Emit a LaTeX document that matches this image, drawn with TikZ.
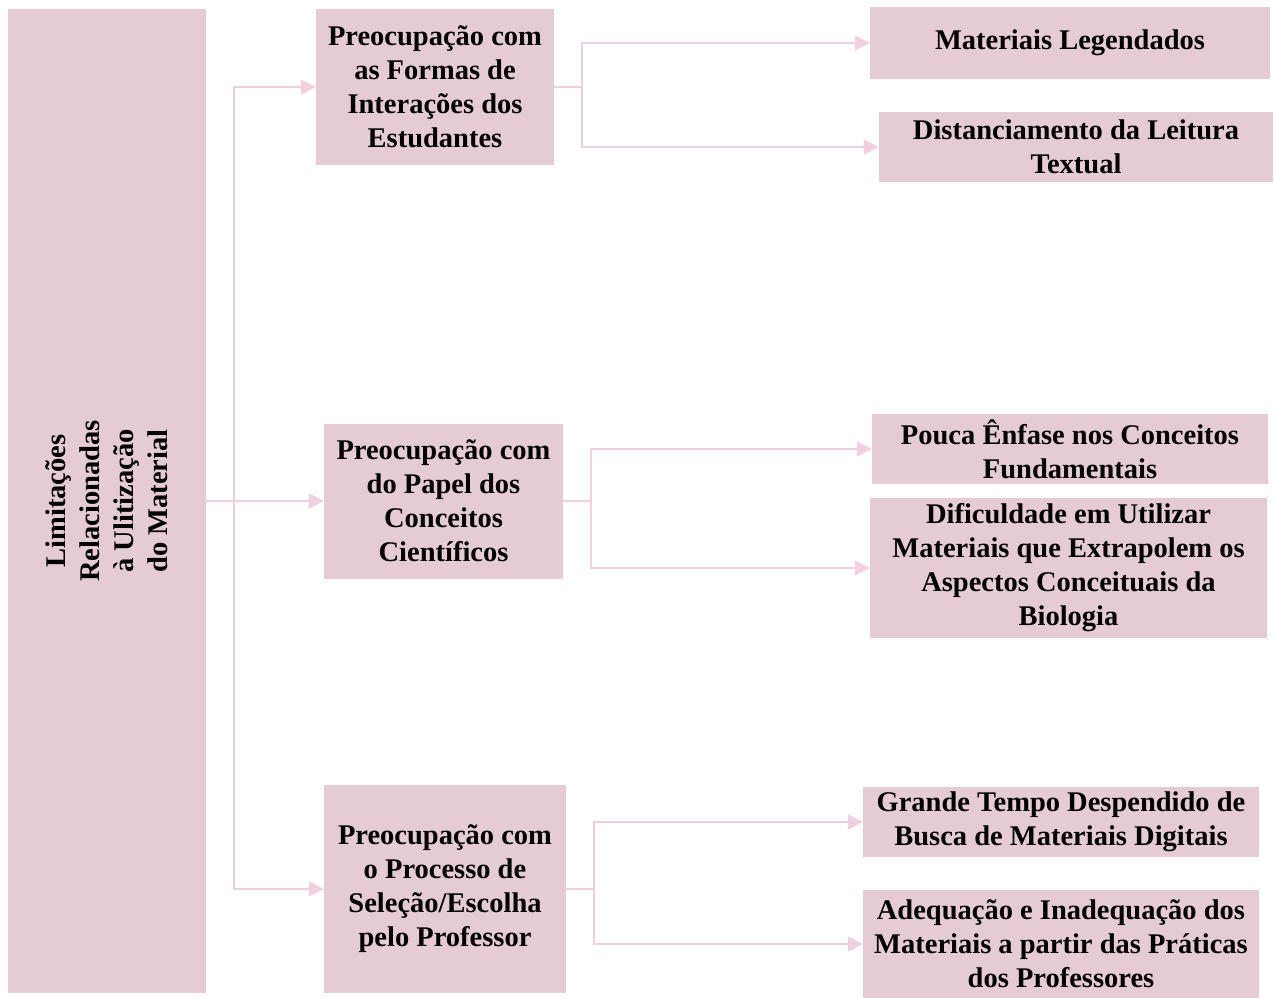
\documentclass[tikz,border=0pt]{standalone}
\usepackage{fontspec}
\setmainfont{Liberation Serif}
\usetikzlibrary{arrows.meta}
\definecolor{boxpink}{RGB}{229,203,211}
\definecolor{linepink}{RGB}{240,208,224}
\begin{document}
\begin{tikzpicture}[x=1pt,y=-1pt,
  box/.style={fill=boxpink, draw=none, align=center, inner sep=0pt,
    font=\bfseries\fontsize{28.5}{34}\selectfont, text=black},
  link/.style={draw=linepink, line width=1.5pt},
  arr/.style={link, -{Triangle[length=15pt,width=15pt]}}]
\useasboundingbox (0,0) rectangle (1274,998);

% left root box (text reads bottom-to-top)
\node[box, rotate=90, minimum width=984pt, minimum height=198pt] (root) at (107,501)
  {Limitações\\Relacionadas\\à Ulitização\\do Material};

% middle column
\node[box, minimum width=238pt, minimum height=155pt] (A) at (435,87)
  {Preocupação com\\as Formas de\\Interações dos\\Estudantes};
\node[box, minimum width=239pt, minimum height=155pt] (B) at (443.5,501)
  {Preocupação com\\do Papel dos\\Conceitos\\Científicos};
\node[box, minimum width=242pt, minimum height=208pt] (C) at (445,889)
  {Preocupação com\\o Processo de\\Seleção/Escolha\\pelo Professor};

% right column
\node[box, minimum width=400pt, minimum height=72pt] (A1) at (1070,43)
  {Materiais Legendados};
\node[box, minimum width=394pt, minimum height=70pt] (A2) at (1076,147)
  {Distanciamento da Leitura\\Textual};
\node[box, minimum width=396pt, minimum height=70pt] (B1) at (1070,449)
  {Pouca Ênfase nos Conceitos\\Fundamentais};
\node[box, minimum width=397pt, minimum height=140pt] (B2) at (1068.5,568)
  {Dificuldade em Utilizar\\Materiais que Extrapolem os\\Aspectos Conceituais da\\Biologia};
\node[box, minimum width=396pt, minimum height=70pt] (C1) at (1061,822)
  {Grande Tempo Despendido de\\Busca de Materiais Digitais};
\node[box, minimum width=396pt, minimum height=108pt] (C2) at (1061,944)
  {Adequação e Inadequação dos\\Materiais a partir das Práticas\\dos Professores};

% junction points
\coordinate (j0) at (234,501);
\coordinate (jA) at (582,87);
\coordinate (jB) at (591,501);
\coordinate (jC) at (594,889);

% connectors
\draw[link] (root.south) -- (j0);
\draw[arr] (j0) |- (A.west);
\draw[arr] (j0) -- (B.west);
\draw[arr] (j0) |- (C.west);

\draw[link] (A.east) -- (jA);
\draw[arr] (jA) |- (A1.west);
\draw[arr] (jA) |- (A2.west);

\draw[link] (B.east) -- (jB);
\draw[arr] (jB) |- (B1.west);
\draw[arr] (jB) |- (B2.west);

\draw[link] (C.east) -- (jC);
\draw[arr] (jC) |- (C1.west);
\draw[arr] (jC) |- (C2.west);
\end{tikzpicture}
\end{document}
